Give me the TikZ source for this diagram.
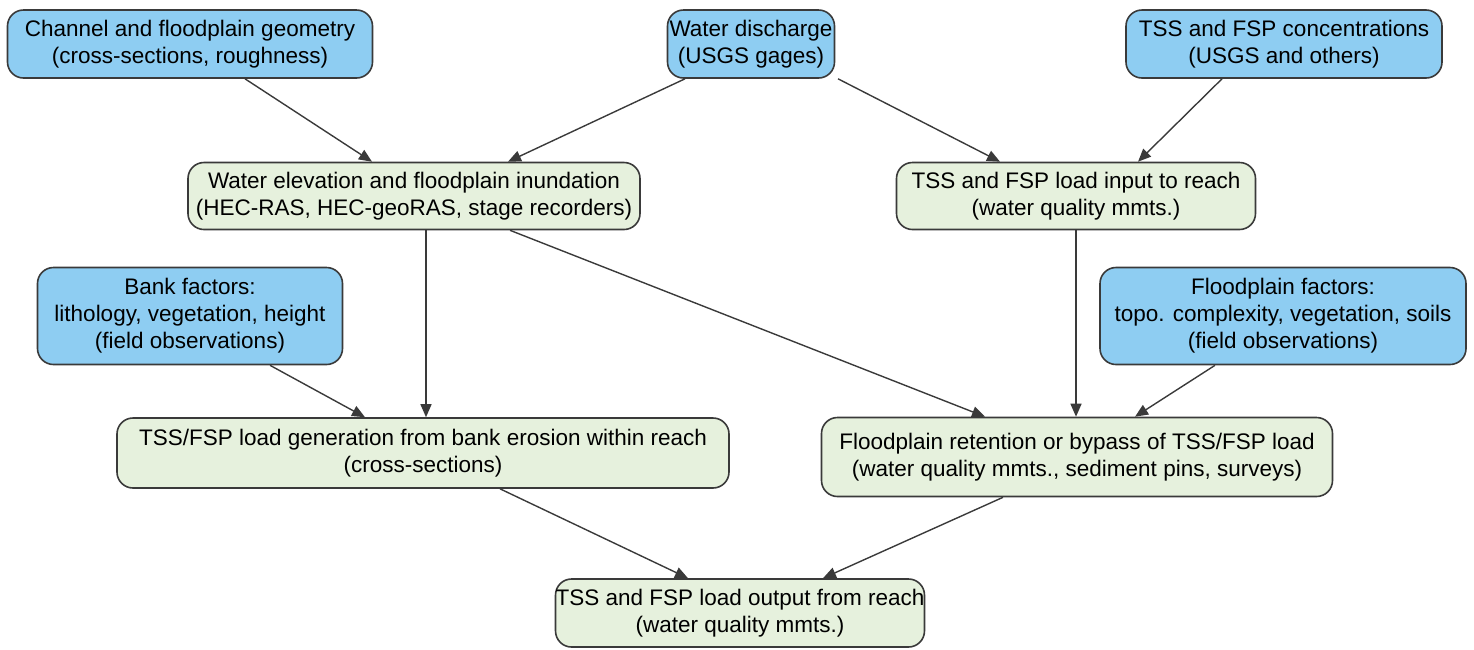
\documentclass[tikz,border=0pt]{standalone}
\usepackage{fontspec}
\setmainfont{Liberation Sans}
\usetikzlibrary{arrows.meta}
\definecolor{bluebox}{HTML}{8ECDF2}
\definecolor{greenbox}{HTML}{E6F1DD}
\definecolor{edge}{HTML}{3A3A3A}
\begin{document}
\begin{tikzpicture}[x=1pt,y=-1pt,
  box/.style={draw=edge,line width=1.6pt,rounded corners=16pt,align=center,inner sep=0pt,
    font=\fontsize{22.5}{27}\selectfont,text=black},
  inbox/.style={box,fill=bluebox},
  outbox/.style={box,fill=greenbox},
  arr/.style={draw=edge,line width=1.4pt,-{Triangle[length=13pt,width=11pt]}}]
\useasboundingbox (0,0) rectangle (1474,649);
\node[inbox,minimum width=365pt,minimum height=68pt] (geo) at (190,44) {Channel and floodplain geometry\\(cross-sections, roughness)};
\node[inbox,minimum width=167pt,minimum height=68pt] (wd) at (751,44) {Water discharge\\(USGS gages)};
\node[inbox,minimum width=316pt,minimum height=68pt] (conc) at (1284,44) {TSS and FSP concentrations\\(USGS and others)};
\node[outbox,minimum width=452pt,minimum height=67pt] (elev) at (414,196) {Water elevation and floodplain inundation\\(HEC-RAS, HEC-geoRAS, stage recorders)};
\node[outbox,minimum width=359pt,minimum height=67pt] (inp) at (1076,196) {TSS and FSP load input to reach\\(water quality mmts.)};
\node[inbox,minimum width=305pt,minimum height=97pt] (bank) at (190,316) {Bank factors:\\lithology, vegetation, height\\(field observations)};
\node[inbox,minimum width=366pt,minimum height=97pt] (fpf) at (1283,316) {Floodplain factors:\\topo. complexity, vegetation, soils\\(field observations)};
\node[outbox,minimum width=612pt,minimum height=70pt] (gen) at (423,453) {TSS/FSP load generation from bank erosion within reach\\(cross-sections)};
\node[outbox,minimum width=511pt,minimum height=79pt] (ret) at (1077,457) {Floodplain retention or bypass of TSS/FSP load\\(water quality mmts., sediment pins, surveys)};
\node[outbox,minimum width=355pt,minimum height=68pt] (out) at (740,613) {TSS and FSP load output from reach\\(water quality mmts.)};
\draw[arr] ([xshift=55pt]geo.south) -- ([xshift=-42pt]elev.north);
\draw[arr] ([xshift=-66pt]wd.south) -- ([xshift=94pt]elev.north);
\draw[arr] ([xshift=87pt]wd.south) -- ([xshift=-76pt]inp.north);
\draw[arr] ([xshift=-62pt]conc.south) -- ([xshift=62pt]inp.north);
\draw[arr] ([xshift=12pt]elev.south) -- ([xshift=3pt]gen.north);
\draw[arr] ([xshift=96pt]elev.south) -- ([xshift=-92pt]ret.north);
\draw[arr] (inp.south) -- ([xshift=-1pt]ret.north);
\draw[arr] ([xshift=80pt]bank.south) -- ([xshift=-58pt]gen.north);
\draw[arr] ([xshift=-68pt]fpf.south) -- ([xshift=58pt]ret.north);
\draw[arr] ([xshift=77pt]gen.south) -- ([xshift=-52pt]out.north);
\draw[arr] ([xshift=-74pt]ret.south) -- ([xshift=83pt]out.north);
\end{tikzpicture}
\end{document}
